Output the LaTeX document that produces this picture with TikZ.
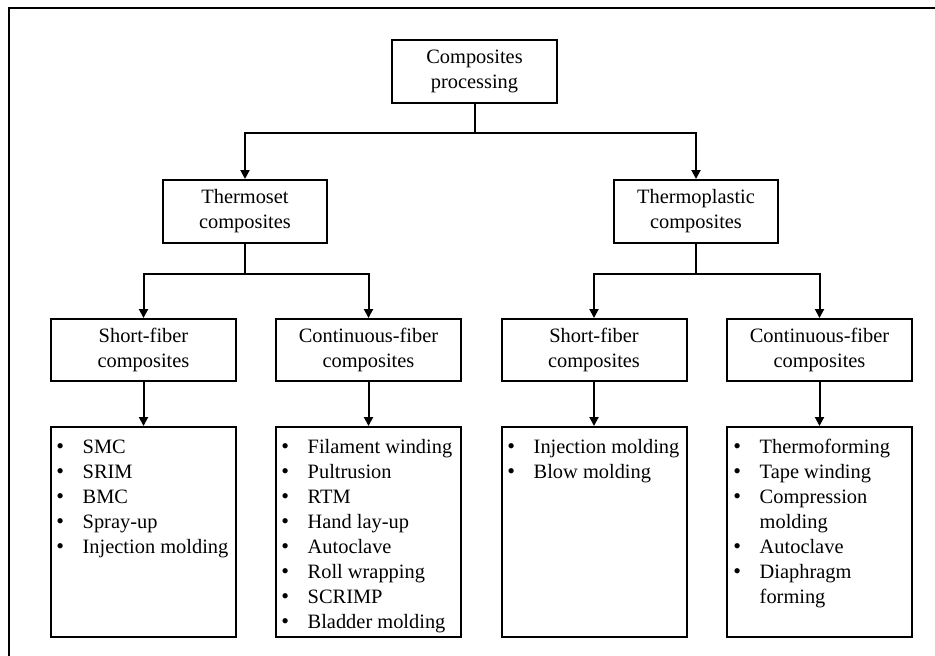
\documentclass[tikz,border=0pt]{standalone}
\usepackage{fontspec}
\setmainfont{Liberation Serif}
\usetikzlibrary{arrows.meta}
\tikzset{
  box/.style={draw, line width=1pt, inner sep=0pt, align=center,
    font=\fontsize{10.2}{12.5}\selectfont},
  hbox/.style={box, minimum width=82pt, minimum height=31.5pt},
  sbox/.style={box, minimum width=92.5pt, minimum height=31pt},
  lbox/.style={box, minimum width=92.5pt, minimum height=105pt},
  arr/.style={line width=1pt, -{Triangle[width=4.5pt,length=4.5pt]}},
  ln/.style={line width=1pt},
  listtext/.style={anchor=north west, inner sep=0pt,
    font=\fontsize{10.2}{12.5}\selectfont},
}
\newcommand{\blist}[1]{\begin{tabular}{@{}l@{\hspace{9.3pt}}l@{}}#1\end{tabular}}
\newcommand{\bul}{{\fontsize{11}{12.5}\selectfont\textbullet}}
\begin{document}
\begin{tikzpicture}[x=0.5pt,y=-0.5pt]
\useasboundingbox (0,0) rectangle (935,655);
\draw[line width=1pt] (9,660) -- (9,8) -- (940,8);

% top levels
\node[hbox, minimum width=82.5pt] (root) at (474.5,71.5) {Composites\\processing};
\node[hbox] (ts) at (245,211.5) {Thermoset\\composites};
\node[hbox] (tp) at (696,211.5) {Thermoplastic\\composites};

\node[sbox] (sf1) at (143.5,350) {Short-fiber\\composites};
\node[sbox] (cf1) at (368.5,350) {Continuous-fiber\\composites};
\node[sbox] (sf2) at (594,350) {Short-fiber\\composites};
\node[sbox] (cf2) at (819.5,350) {Continuous-fiber\\composites};

\node[lbox] (l1) at (143.5,532) {};
\node[lbox] (l2) at (368.5,532) {};
\node[lbox] (l3) at (594,532) {};
\node[lbox] (l4) at (819.5,532) {};

\node[listtext] (t1) at (56,435.5) {\blist{\bul & SMC\\ \bul & SRIM\\ \bul & BMC\\ \bul & Spray-up\\ \bul & Injection molding}};
\node[listtext] (t2) at (281,435.5) {\blist{\bul & Filament winding\\ \bul & Pultrusion\\ \bul & RTM\\ \bul & Hand lay-up\\ \bul & Autoclave\\ \bul & Roll wrapping\\ \bul & SCRIMP\\ \bul & Bladder molding}};
\node[listtext] (t3) at (507,435.5) {\blist{\bul & Injection molding\\ \bul & Blow molding}};
\node[listtext] (t4) at (733,435.5) {\blist{\bul & Thermoforming\\ \bul & Tape winding\\ \bul & Compression\\ & molding\\ \bul & Autoclave\\ \bul & Diaphragm\\ & forming}};

% connectors
\coordinate (b0) at (474.5,133);
\coordinate (b1) at (245,274);
\coordinate (b2) at (696,274);
\draw[ln] (root.south) -- (b0);
\draw[arr] (b0) -| (ts.north);
\draw[arr] (b0) -| (tp.north);
\draw[ln] (ts.south) -- (b1);
\draw[arr] (b1) -| (sf1.north);
\draw[arr] (b1) -| (cf1.north);
\draw[ln] (tp.south) -- (b2);
\draw[arr] (b2) -| (sf2.north);
\draw[arr] (b2) -| (cf2.north);
\draw[arr] (sf1.south) -- (l1.north);
\draw[arr] (cf1.south) -- (l2.north);
\draw[arr] (sf2.south) -- (l3.north);
\draw[arr] (cf2.south) -- (l4.north);
\end{tikzpicture}
\end{document}
